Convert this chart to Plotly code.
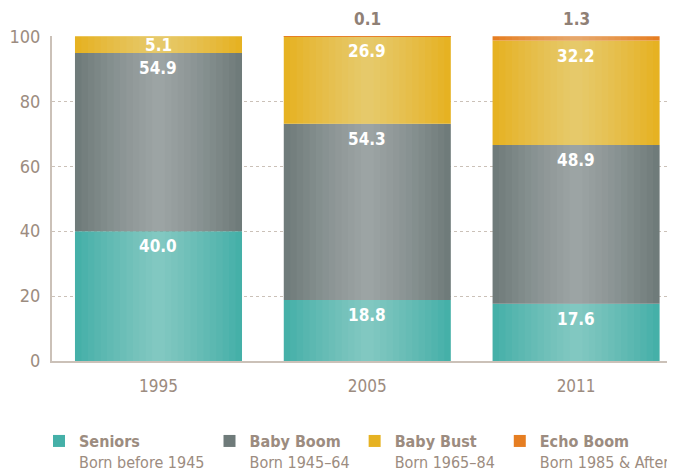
import plotly.graph_objects as go

years = ["1995", "2005", "2011"]
seniors = [40.0, 18.8, 17.6]
baby_boom = [54.9, 54.3, 48.9]
baby_bust = [5.1, 26.9, 32.2]
echo_boom = [0.0, 0.1, 1.3]

series_names = ["Seniors", "Baby Boom", "Baby Bust", "Echo Boom"]
series_sub = ["Born before 1945", "Born 1945–64", "Born 1965–84", "Born 1985 & After"]
series_vals = [seniors, baby_boom, baby_bust, echo_boom]
colors = ["#45b0a8", "#6f7b7a", "#e6b222", "#e67e22"]

FAM = "DejaVu Sans Condensed, DejaVu Sans, sans-serif"
TXT = "#9c8c80"
AX = "#cbc1b8"
BAR_W = 0.8
N_SHADE = 12

fig = go.Figure()
base = [0.0] * len(years)
for k, (name, sub, vals, col) in enumerate(zip(series_names, series_sub, series_vals, colors)):
    fig.add_trace(go.Bar(
        x=years, y=vals, base=base, width=BAR_W, name=f"<b>{name}</b><br>{sub}",
        marker=dict(color=col, line=dict(width=0)), hoverinfo="skip",
    ))
    # light sheen toward the middle of each bar (horizontal gradient look)
    for s in range(1, N_SHADE + 1):
        w = BAR_W * (1 - s / (N_SHADE + 1))
        fig.add_trace(go.Bar(
            x=years, y=vals, base=base, width=w, showlegend=False, hoverinfo="skip",
            marker=dict(color="rgba(255,255,255,0.036)", line=dict(width=0)),
        ))
    # value labels
    for j, v in enumerate(vals):
        top = base[j] + v
        if k < 3 and v > 0:
            small = v < 8
            fig.add_annotation(
                x=j, y=(base[j] + top) / 2 if small else top,
                yshift=0 if small else -15, yanchor="middle",
                text=f"<b>{v:.1f}</b>", showarrow=False,
                font=dict(family=FAM, color="white", size=17),
            )
        elif k == 3 and v > 0:
            fig.add_annotation(
                x=j, y=top, yshift=17, yanchor="middle",
                text=f"<b>{v:.1f}</b>", showarrow=False,
                font=dict(family=FAM, color="#8f8075", size=17),
            )
    base = [b + v for b, v in zip(base, vals)]

y_max = max(base)

fig.update_layout(
    width=675, height=472,
    barmode="overlay",
    plot_bgcolor="white", paper_bgcolor="white",
    margin=dict(l=44, r=0, t=28, b=119, autoexpand=False),
    font=dict(family=FAM, color=TXT, size=17),
    showlegend=True,
    legend=dict(orientation="h", x=-0.0206, xanchor="left", y=-0.194, yanchor="top",
                valign="top", traceorder="normal", itemclick=False,
                font=dict(family=FAM, size=16, color=TXT), tracegroupgap=0),
    xaxis=dict(type="category", range=[-0.51, 2.512], showgrid=False,
               showline=True, linecolor=AX, linewidth=2, ticks="", ticklabelstandoff=9,
               tickfont=dict(size=17, color=TXT)),
    yaxis=dict(range=[0, y_max], tickvals=[0, 20, 40, 60, 80, 100],
               showgrid=True, gridcolor=AX, griddash="dot", gridwidth=1,
               showline=True, linecolor=AX, linewidth=2, zeroline=False,
               ticks="", ticklabelstandoff=6, tickfont=dict(size=18, color=TXT)),
)

fig.write_html("out.html")
